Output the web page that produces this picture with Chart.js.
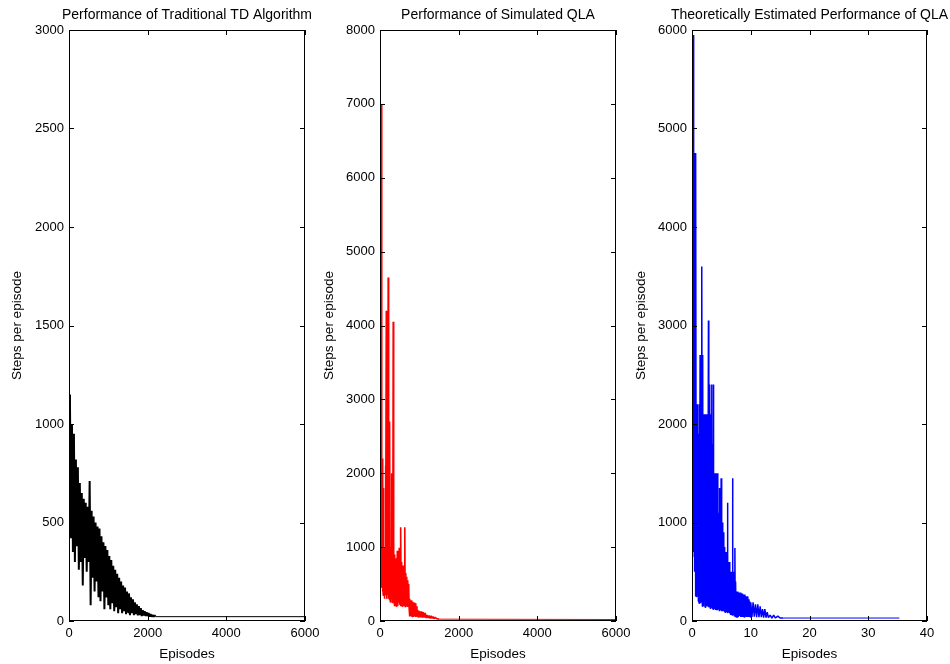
<!DOCTYPE html>
<html>
<head>
<meta charset="utf-8">
<script src="https://cdn.jsdelivr.net/npm/chart.js@4"></script>
<style>
  body { margin: 0; background: #fff; }
  .panel { position: absolute; top: 0; height: 664px; }
</style>
</head>
<body>
<div class="panel" style="left:0px;width:320px"><canvas id="td"></canvas></div>
<div class="panel" style="left:310px;width:321px"><canvas id="qla"></canvas></div>
<div class="panel" style="left:625px;width:325px"><canvas id="theo"></canvas></div>
<script>
// Traditional TD
var tdEpisodes = [0,25,50,75,100,125,150,175,200,225,250,275,300,325,350,375,400,425,450,475,
  500,525,550,575,600,625,650,675,700,725,750,775,800,825,850,875,900,925,950,975,
  1000,1025,1050,1075,1100,1125,1150,1175,1200,1225,1250,1275,1300,1325,1350,1375,1400,1425,1450,1475,
  1500,1525,1550,1575,1600,1625,1650,1675,1700,1725,1750,1775,1800,1825,1850,1875,1900,1925,1950,1975,
  2000,2025,2050,2075,2100,2125,2150,2175,2200,6000];
var tdSteps = [1150,1100,420,1000,350,950,300,820,380,780,260,700,300,650,180,620,320,600,250,580,
  300,710,80,560,220,530,150,500,200,480,120,470,100,430,150,400,60,380,120,360,
  80,330,60,310,90,280,50,260,70,240,40,220,60,200,40,180,50,170,35,150,
  45,140,30,120,40,110,30,95,35,85,28,75,30,65,25,55,28,50,25,45,
  25,40,22,35,22,30,22,28,22,22];

// Simulated QLA
var qlaEpisodes = [0,8,16,24,32,40,48,56,64,72,
  80,88,96,104,112,120,128,136,144,152,
  160,168,176,184,192,200,208,216,224,232,
  240,248,256,264,272,280,288,296,304,312,
  320,328,336,344,352,360,368,376,384,392,
  400,410,420,430,440,450,460,470,480,490,
  500,510,520,530,540,550,560,570,580,590,
  600,610,620,630,640,650,660,670,680,690,
  700,710,720,730,740,750,760,775,790,805,
  820,835,850,865,880,895,910,925,940,955,
  970,985,1000,1020,1040,1060,1080,1100,1125,1150,
  1175,1200,1225,1250,1275,1300,1325,1350,1375,1400,
  1450,1500,6000];
var qlaSteps = [4000,450,2200,500,2100,7000,450,2200,400,1000,
  350,1800,420,1000,300,950,400,2100,350,1000,
  4200,300,1000,1500,350,950,4650,300,1000,1200,
  280,2700,300,950,250,1000,300,950,2000,250,
  900,280,4050,300,950,250,900,200,850,250,
  800,200,850,250,950,200,800,250,700,990,
  220,800,200,1270,250,800,200,750,220,700,
  200,750,220,1270,200,650,190,600,200,550,
  190,550,200,500,180,300,60,280,70,280,
  60,260,55,250,60,240,55,200,60,150,
  55,140,50,130,50,130,45,120,45,110,
  40,80,40,75,35,70,35,60,30,50,
  30,25,20];

// Theoretically estimated QLA
var theoEpisodes = [0,0.04,0.08,0.12,0.16,0.2,0.24,0.28,0.32,0.36,
  0.4,0.44,0.48,0.52,0.56,0.6,0.64,0.68,0.72,0.78,
  0.84,0.9,0.96,1.02,1.08,1.14,1.2,1.26,1.32,1.38,
  1.44,1.5,1.56,1.62,1.7,1.76,1.82,1.88,1.94,2.0,
  2.06,2.12,2.18,2.24,2.3,2.36,2.42,2.48,2.54,2.6,
  2.66,2.72,2.8,2.86,2.92,2.98,3.04,3.1,3.16,3.22,
  3.28,3.34,3.4,3.46,3.52,3.58,3.64,3.7,3.76,3.82,
  3.88,3.94,4.0,4.06,4.12,4.18,4.24,4.3,4.36,4.42,
  4.48,4.54,4.6,4.66,4.72,4.78,4.84,4.9,4.96,5.02,
  5.08,5.14,5.2,5.26,5.32,5.38,5.44,5.5,5.56,5.62,
  5.68,5.74,5.8,5.86,5.92,5.98,6.04,6.1,6.16,6.22,
  6.28,6.34,6.4,6.46,6.52,6.58,6.64,6.7,6.76,6.82,
  6.9,6.96,7.02,7.08,7.14,7.2,7.3,7.36,7.42,7.5,
  7.6,7.7,7.8,7.9,8.0,8.1,8.2,8.3,8.4,8.5,
  8.6,8.7,8.8,8.9,9.0,9.1,9.2,9.3,9.4,9.5,
  9.6,9.7,9.8,9.9,10.0,10.2,10.4,10.6,10.8,11.0,
  11.2,11.4,11.6,11.8,12.0,12.2,12.4,12.6,12.8,13.0,
  13.3,13.6,13.9,14.2,14.6,15.0,15.5,35.3];
var theoSteps = [1000,4750,650,4750,800,4750,700,5950,700,4750,
  900,4750,500,4750,400,4750,250,4750,250,2200,
  250,2200,250,1500,200,1900,180,2200,200,2700,
  180,2700,200,2700,3600,150,2700,170,1800,150,
  2100,200,1900,140,2100,180,1800,150,2100,160,
  2100,150,3050,140,2400,160,2400,130,2100,150,
  1800,140,2400,130,1800,120,2400,150,1500,130,
  1500,120,1500,140,1400,110,1500,130,1500,110,
  1100,120,1000,100,1350,130,1000,110,1450,100,
  900,120,1000,100,900,110,750,100,750,90,
  600,100,700,90,600,100,1200,80,600,90,
  500,90,600,80,450,60,500,80,450,60,
  1450,70,450,60,500,50,740,50,400,40,
  300,40,300,40,290,50,290,40,280,40,
  280,45,270,40,270,45,250,40,250,40,
  220,40,200,40,190,40,190,45,170,40,
  170,40,150,40,120,35,120,35,90,35,
  60,30,60,30,50,30,30,30];

var tdXTicks = [0, 2000, 4000, 6000];
var tdYTicks = [0, 500, 1000, 1500, 2000, 2500, 3000];
var qlaXTicks = [0, 2000, 4000, 6000];
var qlaYTicks = [0, 1000, 2000, 3000, 4000, 5000, 6000, 7000, 8000];
var theoXTicks = [0, 10, 20, 30, 40];
var theoYTicks = [0, 1000, 2000, 3000, 4000, 5000, 6000];

var FONT = "Arial, 'Liberation Sans', Helvetica, sans-serif";

// axes box with inward ticks on all four sides, title centred over the plot
var boxPlugin = {
	id : "matlabBox",
	afterDraw : function(chart) {
		var ctx = chart.ctx, a = chart.chartArea;
		var xs = chart.scales.x, ys = chart.scales.y;
		var L = 5;
		ctx.save();
		ctx.strokeStyle = "#000";
		ctx.lineWidth = 1;
		ctx.beginPath();
		xs.ticks.forEach(function(t) {
			var px = Math.round(xs.getPixelForValue(t.value)) + 0.5;
			ctx.moveTo(px, a.bottom); ctx.lineTo(px, a.bottom - L);
			ctx.moveTo(px, a.top); ctx.lineTo(px, a.top + L);
		});
		ys.ticks.forEach(function(t) {
			var py = Math.round(ys.getPixelForValue(t.value)) + 0.5;
			ctx.moveTo(a.left, py); ctx.lineTo(a.left + L, py);
			ctx.moveTo(a.right, py); ctx.lineTo(a.right - L, py);
		});
		ctx.stroke();
		ctx.strokeRect(Math.round(a.left) + 0.5, Math.round(a.top) + 0.5,
			Math.round(a.width) - 1, Math.round(a.height) - 1);

		ctx.fillStyle = "#000";
		ctx.font = "14px " + FONT;
		ctx.textAlign = "center";
		ctx.textBaseline = "middle";
		ctx.fillText(chart.options.panelTitle, (a.left + a.right) / 2, 15.5);
		ctx.restore();
	}
};

function makePanel(id, title, xs, ys, color, width, xMax, yMax, xTicks, yTicks, yAxisWidth, rightPad, yTitlePad) {
	var points = xs.map(function(x, i) { return { x : x, y : ys[i] }; });
	var tailStart = xs[xs.length - 2];
	return new Chart(document.getElementById(id), {
		type : "scatter",
		data : {
			datasets : [{
				data : points,
				showLine : true,
				borderColor : color,
				backgroundColor : color,
				borderWidth : width,
				borderJoinStyle : "bevel",
				pointRadius : 0,
				tension : 0,
				segment : {
					borderWidth : function(c) { return c.p0.parsed.x >= tailStart ? 1 : width; }
				}
			}]
		},
		options : {
			panelTitle : title,
			responsive : true,
			maintainAspectRatio : false,
			animation : false,
			layout : { padding : { left : 0, right : rightPad, top : 30, bottom : 0 } },
			plugins : {
				legend : { display : false },
				tooltip : { enabled : false },
				title : { display : false }
			},
			scales : {
				x : {
					type : "linear",
					min : 0,
					max : xMax,
					grid : { display : false, drawTicks : false },
					border : { display : false },
					afterBuildTicks : function(s) { s.ticks = xTicks.map(function(v) { return { value : v }; }); },
					afterFit : function(s) { s.height = 43; s.paddingLeft = 0; s.paddingRight = 0; },
					ticks : {
						autoSkip : false,
						maxRotation : 0,
						padding : 5,
						color : "#000",
						font : { family : FONT, size : 13 },
						callback : function(v) { return String(v); }
					},
					title : {
						display : true,
						text : "Episodes",
						color : "#000",
						font : { family : FONT, size : 13.5 },
						padding : { top : 0, bottom : 2 }
					}
				},
				y : {
					type : "linear",
					min : 0,
					max : yMax,
					grid : { display : false, drawTicks : false },
					border : { display : false },
					afterBuildTicks : function(s) { s.ticks = yTicks.map(function(v) { return { value : v }; }); },
					afterFit : function(s) { s.width = yAxisWidth; s.paddingTop = 0; s.paddingBottom = 0; },
					ticks : {
						autoSkip : false,
						padding : 5,
						color : "#000",
						font : { family : FONT, size : 13 },
						callback : function(v) { return String(v); }
					},
					title : {
						display : true,
						text : "Steps per episode",
						color : "#000",
						font : { family : FONT, size : 13.5 },
						padding : { top : yTitlePad, bottom : 0 }
					}
				}
			}
		},
		plugins : [boxPlugin]
	});
}

makePanel("td", "Performance of Traditional TD Algorithm", tdEpisodes, tdSteps, "#000000", 2,
	6000, 3000, tdXTicks, tdYTicks, 69, 15, 9);
makePanel("qla", "Performance of Simulated QLA", qlaEpisodes, qlaSteps, "#ff0000", 1.6,
	6000, 8000, qlaXTicks, qlaYTicks, 70, 15, 11);
makePanel("theo", "Theoretically Estimated Performance of QLA", theoEpisodes, theoSteps, "#0000ff", 1.5,
	40, 6000, theoXTicks, theoYTicks, 67, 23, 8);
</script>
</body>
</html>
